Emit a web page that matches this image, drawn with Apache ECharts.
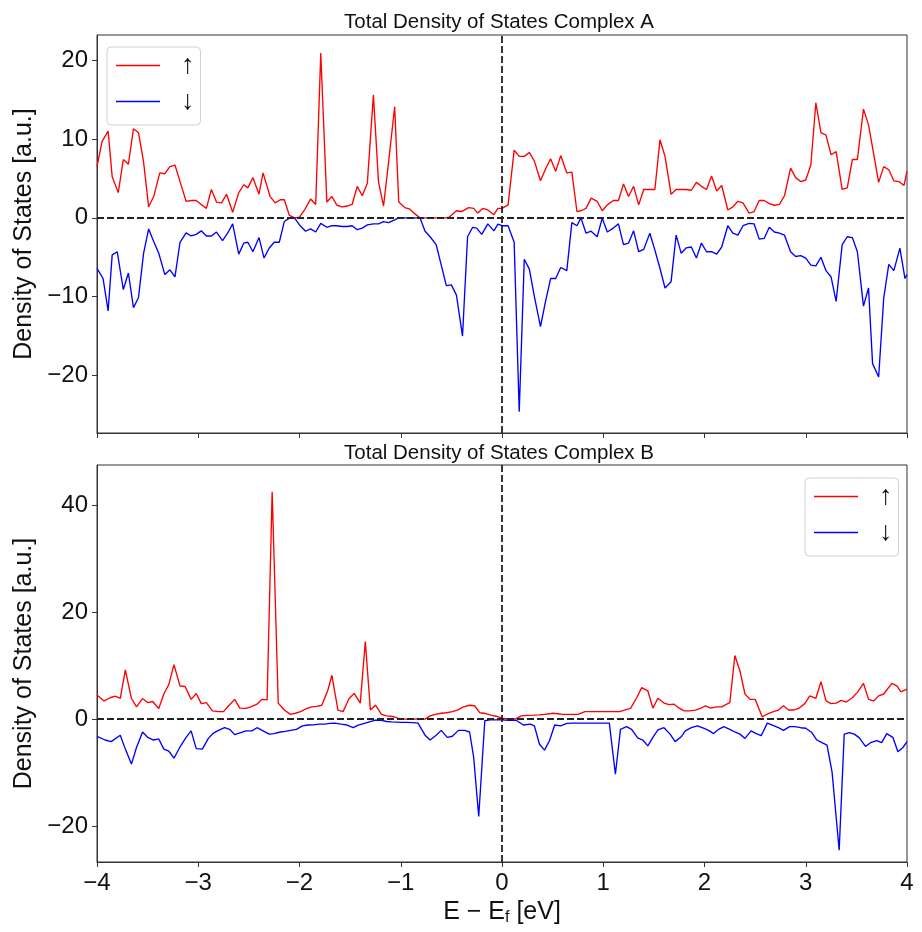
<!DOCTYPE html>
<html>
<head>
<meta charset="utf-8">
<script src="https://cdn.jsdelivr.net/npm/echarts@6/dist/echarts.min.js"></script>
<style>
html,body{margin:0;padding:0;background:#fff;}
#chart{width:922px;height:932px;}
</style>
</head>
<body>
<div id="chart"></div>
<script>
// ---------- DATA ----------
var titles = ['Total Density of States Complex A', 'Total Density of States Complex B'];
var xTicks = [-4, -3, -2, -1, 0, 1, 2, 3, 4];
var yTicksA = [-20, -10, 0, 10, 20];
var yTicksB = [-20, 0, 20, 40];
var legendNames = ['\u2191', '\u2193'];

// Complex A, spin up
var energyUpA = [-4.00,-3.95,-3.89,-3.85,-3.79,-3.74,-3.69,-3.64,-3.59,-3.54,-3.49,-3.44,-3.38,-3.33,-3.28,-3.23,-3.18,-3.12,-3.07,-3.02,-2.97,-2.92,-2.87,-2.82,-2.77,-2.72,-2.66,-2.60,-2.55,-2.51,-2.46,-2.40,-2.36,-2.29,-2.24,-2.19,-2.15,-2.10,-2.05,-2.00,-1.95,-1.89,-1.84,-1.79,-1.73,-1.68,-1.63,-1.58,-1.53,-1.48,-1.43,-1.38,-1.33,-1.27,-1.22,-1.17,-1.12,-1.06,-1.02,-0.96,-0.91,-0.86,-0.81,-0.76,-0.71,-0.66,-0.61,-0.56,-0.52,-0.45,-0.40,-0.33,-0.28,-0.24,-0.19,-0.14,-0.08,-0.04,
  0.00,0.06,0.12,0.17,0.22,0.27,0.32,0.38,0.43,0.48,0.53,0.58,0.64,0.69,0.74,0.78,0.83,0.88,0.94,0.99,1.04,1.10,1.15,1.20,1.25,1.30,1.35,1.40,1.46,1.51,1.56,1.61,1.67,1.72,1.77,1.82,1.87,1.92,1.97,2.02,2.07,2.12,2.17,2.23,2.28,2.33,2.38,2.44,2.49,2.54,2.59,2.64,2.69,2.74,2.79,2.85,2.90,2.95,3.00,3.05,3.10,3.15,3.20,3.25,3.30,3.36,3.41,3.46,3.51,3.57,3.62,3.66,3.72,3.77,3.82,3.87,3.92,3.97,4.00];
var dosUpA = [6.5,9.7,11.0,5.2,3.2,7.4,6.8,11.3,10.8,7.1,1.4,2.7,5.7,5.6,6.5,6.7,4.6,2.1,2.2,2.2,1.7,1.2,3.6,2.0,1.9,3.0,0.7,3.2,4.2,3.8,5.1,3.0,5.7,2.7,1.9,2.3,2.3,0.3,0,0.1,1.0,2.4,1.7,20.9,2.0,2.7,1.6,1.4,1.5,1.7,4.0,2.8,4.4,15.6,4.6,1.5,7.1,14.1,2.0,1.3,1.1,0.5,0,0,0,0,0,0,0.1,0.9,0.8,1.3,1.2,0.6,1.2,1.0,0.4,1.2,
  1.2,1.65,8.6,7.8,7.8,8.3,7.2,4.7,6.2,7.5,5.9,7.9,5.7,5.8,0.8,0.9,1.2,2.5,2.1,0.9,1.65,2.2,2.2,4.3,2.7,4.0,1.65,3.6,3.6,3.6,9.9,7.8,3.0,3.6,3.6,3.6,3.5,4.5,4.0,3.6,5.3,3.4,4.1,1.0,1.4,2.1,1.9,0.6,0.8,2.2,2.2,1.8,1.6,1.7,2.8,6.3,5.1,4.6,4.8,6.7,14.6,10.8,10.5,8.0,8.4,3.6,3.8,7.4,7.4,13.8,11.8,8.9,4.5,6.5,6.1,4.7,4.6,4.1,5.9];

// Complex A, spin down
var energyDownA = [-4.00,-3.94,-3.89,-3.85,-3.80,-3.74,-3.69,-3.64,-3.59,-3.54,-3.49,-3.44,-3.39,-3.33,-3.28,-3.23,-3.18,-3.12,-3.07,-3.02,-2.97,-2.92,-2.87,-2.82,-2.76,-2.71,-2.66,-2.60,-2.55,-2.51,-2.46,-2.40,-2.35,-2.30,-2.25,-2.20,-2.15,-2.10,-2.05,-2.00,-1.94,-1.89,-1.84,-1.79,-1.73,-1.68,-1.63,-1.58,-1.53,-1.48,-1.43,-1.38,-1.33,-1.27,-1.22,-1.17,-1.12,-1.06,-1.02,-0.96,-0.91,-0.86,-0.81,-0.76,-0.71,-0.65,-0.60,-0.55,-0.50,-0.45,-0.39,-0.34,-0.29,-0.25,-0.20,-0.14,-0.08,-0.04,
  0.00,0.06,0.12,0.17,0.22,0.27,0.32,0.38,0.43,0.48,0.53,0.58,0.64,0.69,0.74,0.78,0.83,0.88,0.94,0.99,1.04,1.10,1.15,1.20,1.25,1.30,1.35,1.40,1.46,1.51,1.56,1.61,1.67,1.72,1.77,1.82,1.87,1.92,1.97,2.02,2.07,2.12,2.17,2.23,2.28,2.33,2.38,2.44,2.49,2.54,2.59,2.64,2.69,2.74,2.79,2.85,2.90,2.95,3.00,3.05,3.10,3.15,3.20,3.25,3.30,3.36,3.41,3.46,3.51,3.57,3.62,3.66,3.72,3.77,3.82,3.87,3.93,3.98,4.00];
var dosDownA = [-6.4,-7.7,-11.8,-4.7,-4.3,-9.1,-7.0,-11.4,-10.1,-4.5,-1.4,-3.0,-4.5,-7.2,-6.6,-7.5,-3.1,-1.9,-2.3,-2.1,-1.65,-2.3,-2.3,-1.8,-2.9,-1.95,-0.76,-4.6,-3.2,-3.1,-4.3,-2.5,-5.1,-3.85,-3.1,-3.1,-0.47,-0.04,0,-0.9,-1.7,-1.4,-1.8,-0.7,-1.2,-1.0,-1.0,-1.1,-1.1,-1.0,-1.5,-1.3,-0.9,-0.76,-0.76,-0.47,-0.6,-0.25,0,0,0,0,0,-1.7,-2.4,-3.4,-6.0,-8.6,-8.5,-9.8,-15.0,-2.4,-1.2,-1.3,-2.1,-0.76,-1.65,-0.8,
  -1.0,-1.0,-3.1,-24.6,-5.25,-6.5,-10.0,-13.8,-10.6,-7.7,-7.7,-6.3,-6.7,-0.6,-1.0,0,-1.95,-1.7,-2.4,-0.04,-1.8,-1.3,-0.76,-3.4,-3.2,-1.65,-4.3,-4.0,-1.95,-4.1,-6.4,-8.9,-8.1,-2.2,-4.5,-3.8,-3.7,-5.1,-3.2,-4.3,-4.3,-4.6,-3.7,-1.0,-1.95,-2.2,-1.0,-0.7,-0.76,-2.7,-2.6,-1.2,-1.8,-1.95,-2.2,-4.3,-4.9,-4.8,-5.1,-6.0,-6.1,-5.0,-6.7,-7.5,-10.6,-3.4,-2.4,-2.5,-4.3,-11.2,-8.9,-18.5,-20.2,-10.2,-5.9,-6.7,-3.85,-7.7,-7.2];

// Complex B, spin up
var energyUpB = [-4.00,-3.93,-3.87,-3.82,-3.77,-3.72,-3.66,-3.61,-3.55,-3.50,-3.45,-3.39,-3.34,-3.29,-3.24,-3.18,-3.13,-3.07,-3.02,-2.97,-2.92,-2.86,-2.80,-2.75,-2.70,-2.64,-2.59,-2.53,-2.48,-2.42,-2.37,-2.32,-2.27,-2.21,-2.15,-2.09,-2.04,-1.99,-1.94,-1.88,-1.83,-1.78,-1.72,-1.68,-1.62,-1.57,-1.51,-1.46,-1.40,-1.35,-1.30,-1.25,-1.19,-1.14,-1.08,-1.03,-0.98,-0.93,-0.87,-0.81,-0.76,-0.71,-0.66,-0.60,-0.55,-0.49,-0.44,-0.38,-0.32,-0.27,-0.22,-0.16,-0.11,-0.05,
  0.00,0.07,0.14,0.19,0.25,0.32,0.37,0.42,0.47,0.50,0.55,0.60,0.65,0.70,0.75,0.82,0.87,0.92,0.97,1.01,1.06,1.11,1.16,1.21,1.27,1.33,1.38,1.44,1.49,1.54,1.60,1.65,1.70,1.75,1.80,1.85,1.91,1.96,2.01,2.06,2.12,2.17,2.22,2.25,2.30,2.35,2.40,2.45,2.50,2.57,2.63,2.68,2.73,2.78,2.83,2.88,2.93,2.99,3.04,3.10,3.15,3.20,3.25,3.30,3.35,3.40,3.46,3.51,3.57,3.62,3.67,3.72,3.77,3.85,3.90,3.94,3.99,4.00];
var dosUpB = [4.5,3.4,4.0,4.3,3.9,9.2,3.9,2.3,3.85,3.1,3.3,2.0,4.7,6.5,10.2,6.2,6.1,3.7,4.8,2.9,3.1,1.55,1.4,1.4,2.5,3.7,2.05,2.0,2.3,2.8,3.7,3.6,42.5,3.0,1.7,0.9,1.1,1.4,1.9,2.3,2.4,2.6,5.4,8.2,1.7,1.4,3.85,4.8,3.0,14.5,1.7,2.6,0.9,0.6,0.5,0.2,0,0,0,0,0,0.6,0.9,1.1,1.2,1.4,1.7,2.3,2.6,2.5,1.2,1.05,0.75,0.5,
  0.2,0.05,0.1,0.6,0.7,0.75,0.8,0.9,1.0,1.1,1.0,0.9,0.9,0.9,0.9,1.4,1.4,1.4,1.4,1.4,1.4,1.4,1.4,1.7,2.0,4.0,5.9,5.3,2.05,3.9,3.0,2.7,2.8,2.05,1.55,1.55,1.7,2.0,2.5,2.05,2.3,2.3,2.8,3.1,11.9,9.0,4.7,3.7,3.7,0.43,1.05,1.4,1.7,2.5,1.7,1.7,2.0,2.9,4.35,3.9,7.0,3.4,2.9,3.0,3.5,3.2,4.0,5.0,6.7,3.7,3.4,4.35,4.7,6.7,6.2,5.1,5.5,5.6];

// Complex B, spin down
var energyDownB = [-4.00,-3.92,-3.86,-3.77,-3.72,-3.66,-3.61,-3.55,-3.50,-3.44,-3.39,-3.34,-3.29,-3.24,-3.18,-3.12,-3.07,-3.02,-2.96,-2.90,-2.85,-2.80,-2.74,-2.69,-2.64,-2.58,-2.53,-2.47,-2.42,-2.36,-2.30,-2.25,-2.19,-2.14,-2.09,-2.03,-1.97,-1.92,-1.86,-1.81,-1.75,-1.70,-1.65,-1.59,-1.53,-1.47,-1.42,-1.36,-1.31,-1.25,-1.20,-1.14,-1.09,-1.04,-0.99,-0.94,-0.88,-0.83,-0.76,-0.71,-0.65,-0.60,-0.54,-0.49,-0.43,-0.37,-0.32,-0.28,-0.23,-0.17,-0.12,-0.05,
  0.00,0.06,0.14,0.21,0.28,0.32,0.37,0.42,0.47,0.52,0.58,0.64,0.70,0.78,0.88,0.98,1.06,1.12,1.17,1.23,1.28,1.34,1.39,1.44,1.49,1.54,1.60,1.66,1.71,1.77,1.81,1.87,1.93,1.99,2.04,2.09,2.14,2.19,2.25,2.30,2.35,2.40,2.46,2.51,2.56,2.62,2.67,2.73,2.78,2.84,2.89,2.95,3.00,3.06,3.11,3.16,3.21,3.26,3.33,3.38,3.43,3.48,3.53,3.59,3.64,3.70,3.75,3.80,3.86,3.91,3.96,4.00];
var dosDownB = [-3.2,-3.9,-4.2,-3.0,-5.6,-8.4,-5.3,-2.4,-3.4,-3.9,-3.7,-5.6,-6.0,-7.3,-5.2,-3.4,-2.2,-5.5,-5.6,-3.6,-2.6,-2.1,-1.6,-1.9,-2.9,-2.5,-2.2,-2.2,-1.6,-2.2,-2.8,-2.7,-2.4,-2.3,-2.1,-1.9,-1.25,-1.1,-1.06,-0.94,-0.94,-0.8,-0.75,-0.94,-1.1,-1.6,-1.1,-0.8,-0.5,-0.2,-0.2,-0.44,-0.5,-0.55,-0.6,-0.6,-0.65,-0.75,-3.0,-3.9,-3.0,-2.1,-3.4,-3.2,-2.1,-2.1,-2.4,-7.1,-18.2,-0.3,-0.13,-0.13,
  -0.13,-0.2,-0.2,-1.1,-0.94,-1.25,-4.7,-5.8,-4.0,-1.1,-1.25,-0.8,-0.75,-0.75,-0.75,-0.75,-0.75,-10.3,-1.9,-1.4,-1.9,-3.5,-3.9,-5.0,-3.4,-2.0,-1.6,-2.8,-4.2,-3.3,-2.2,-1.6,-1.25,-1.7,-2.1,-2.7,-1.9,-1.4,-1.9,-2.4,-2.8,-3.6,-2.2,-2.7,-3.1,-0.75,-1.1,-1.6,-2.1,-1.4,-1.4,-1.6,-1.7,-2.5,-3.9,-4.4,-4.85,-9.9,-24.5,-2.8,-2.5,-2.8,-3.5,-5.1,-4.4,-4.0,-4.4,-2.7,-3.4,-6.1,-5.3,-4.2];

// ---------- CHART ----------
function pairs(xs, ys) {
  var out = [];
  for (var i = 0; i < xs.length && i < ys.length; i++) out.push([xs[i], ys[i]]);
  return out;
}
function fmt(v) { return (v < 0 ? '\u2212' + Math.abs(v) : String(v)); }

var FONT = '"Liberation Sans", Arial, sans-serif';
var spine = '#333';
var UP = '#ff0000', DOWN = '#0000ff';

function xAxisCfg(gi, showLabels) {
  return {
    type: 'value', gridIndex: gi, min: xTicks[0], max: xTicks[xTicks.length - 1], interval: 1,
    axisLine: {show: true, onZero: false, lineStyle: {color: spine, width: 1}},
    axisTick: {show: true, inside: false, length: 5, lineStyle: {color: spine}},
    axisLabel: {show: showLabels, margin: 9, fontSize: 24, color: '#111', fontFamily: FONT, formatter: fmt},
    splitLine: {show: false},
    name: showLabels ? 'E \u2212 E{sub|f} [eV]' : '',
    nameLocation: 'middle', nameGap: 36,
    nameTextStyle: {fontSize: 25, color: '#111', fontFamily: FONT,
      rich: {sub: {fontSize: 16, fontFamily: FONT, color: '#111', verticalAlign: 'bottom', padding: [12, 0, 0, 0]}}}
  };
}
function yAxisCfg(gi, min, max, ticks) {
  return {
    type: 'value', gridIndex: gi, min: min, max: max,
    axisLine: {show: true, onZero: false, lineStyle: {color: spine, width: 1}},
    axisTick: {show: true, inside: false, length: 5, lineStyle: {color: spine}, customValues: ticks},
    axisLabel: {show: true, margin: 9, fontSize: 24, color: '#111', fontFamily: FONT, formatter: fmt, customValues: ticks},
    splitLine: {show: false},
    name: 'Density of States [a.u.]', nameLocation: 'middle', nameGap: 60, nameRotate: 90,
    nameTextStyle: {fontSize: 25, color: '#111', fontFamily: FONT}
  };
}
function lineSeries(name, gi, xs, ys, color) {
  return {
    name: name, type: 'line', xAxisIndex: gi, yAxisIndex: gi,
    data: pairs(xs, ys), symbol: 'none', showSymbol: false,
    lineStyle: {color: color, width: 1.35}, itemStyle: {color: color},
    z: 2, animation: false, silent: true
  };
}
function zeroLines(gi) {
  return {
    name: 'zero' + gi, type: 'line', xAxisIndex: gi, yAxisIndex: gi,
    data: [], symbol: 'none', z: 5, silent: true, animation: false,
    markLine: {
      symbol: ['none', 'none'], silent: true, animation: false,
      label: {show: false},
      lineStyle: {color: '#222', type: [7, 3], width: 1.8},
      data: [{yAxis: 0}, {xAxis: 0}]
    }
  };
}
function legendCfg(left, top) {
  return {
    data: [
      {name: legendNames[0], icon: 'rect', itemStyle: {color: UP, borderWidth: 0}},
      {name: legendNames[1], icon: 'rect', itemStyle: {color: DOWN, borderWidth: 0}}
    ],
    orient: 'vertical', left: left, top: top,
    itemWidth: 44, itemHeight: 1.5, itemGap: 9,
    padding: [5, 6, 10, 9],
    backgroundColor: 'rgba(255,255,255,0.85)', borderColor: '#d0d0d0', borderWidth: 1, borderRadius: 4,
    selectedMode: false,
    textStyle: {fontSize: 27, lineHeight: 26, color: '#111', fontFamily: FONT, padding: [0, 0, 0, 16]}
  };
}

var chart = echarts.init(document.getElementById('chart'), null, {renderer: 'canvas'});
chart.setOption({
  backgroundColor: '#fff',
  animation: false,
  grid: [
    {left: 97, right: 15, top: 35, height: 398, show: true, borderColor: spine, borderWidth: 1, backgroundColor: 'transparent'},
    {left: 97, right: 15, top: 465, height: 397, show: true, borderColor: spine, borderWidth: 1, backgroundColor: 'transparent'}
  ],
  xAxis: [xAxisCfg(0, false), xAxisCfg(1, true)],
  yAxis: [yAxisCfg(0, -27.3, 23.2, yTicksA), yAxisCfg(1, -26.7, 47.5, yTicksB)],
  legend: [legendCfg(107, 47), legendCfg(805, 478)],
  graphic: [
    {type: 'text', x: 499, y: 22, style: {text: titles[0], fontSize: 20.5, fontFamily: FONT, fill: '#111', textAlign: 'center', textVerticalAlign: 'middle'}},
    {type: 'text', x: 499, y: 453, style: {text: titles[1], fontSize: 20.5, fontFamily: FONT, fill: '#111', textAlign: 'center', textVerticalAlign: 'middle'}}
  ],
  series: [
    lineSeries(legendNames[0], 0, energyUpA, dosUpA, UP),
    lineSeries(legendNames[1], 0, energyDownA, dosDownA, DOWN),
    zeroLines(0),
    lineSeries(legendNames[0], 1, energyUpB, dosUpB, UP),
    lineSeries(legendNames[1], 1, energyDownB, dosDownB, DOWN),
    zeroLines(1)
  ]
});
</script>
</body>
</html>
